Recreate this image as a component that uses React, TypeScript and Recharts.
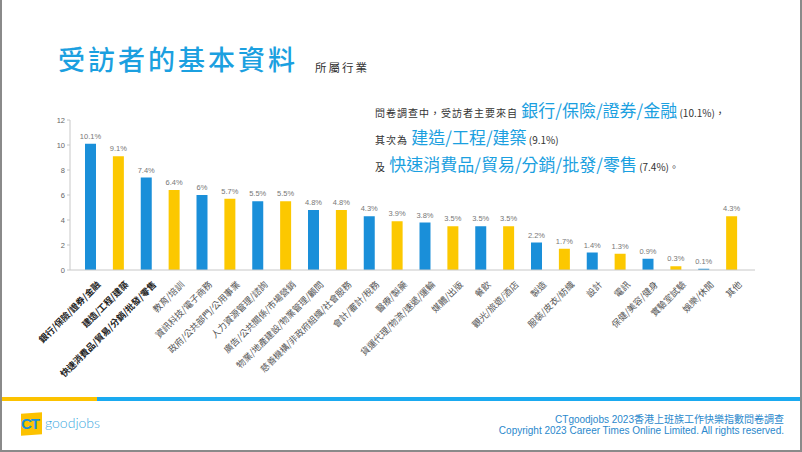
import React from "react";
import { BarChart, Bar, XAxis, YAxis, Cell, LabelList } from "recharts";

const categories = [
  "銀行/保險/證券/金融",
  "建造/工程/建築",
  "快速消費品/貿易/分銷/批發/零售",
  "教育/培訓",
  "資訊科技/電子商務",
  "政府/公共部門/公用事業",
  "人力資源管理/諮詢",
  "廣告/公共關係/市場營銷",
  "物業/地產建設/物業管理/顧問",
  "慈善機構/非政府組織/社會服務",
  "會計/審計/稅務",
  "醫療/製藥",
  "貨運代理/物流/速遞/運輸",
  "媒體/出版",
  "餐飲",
  "觀光/旅遊/酒店",
  "製造",
  "服裝/皮衣/紡織",
  "設計",
  "電訊",
  "保健/美容/健身",
  "實驗室試驗",
  "娛樂/休閒",
  "其他",
];

const shares = [10.1, 9.1, 7.4, 6.4, 6, 5.7, 5.5, 5.5, 4.8, 4.8, 4.3, 3.9, 3.8, 3.5, 3.5, 3.5, 2.2, 1.7, 1.4, 1.3, 0.9, 0.3, 0.1, 4.3];

const yTicks = [0, 2, 4, 6, 8, 10, 12];

const BLUE = "#1a8fd9";
const YELLOW = "#fcc800";
const CJK = '"Noto Sans CJK TC", "Noto Sans", sans-serif';

const data = categories.map((name, i) => ({ name, value: shares[i] }));

const XTick = (props: any) => {
  const { x, y, payload, index } = props;
  const bold = index < 3;
  return (
    <g transform={`translate(${x + 8},${y + 5})`}>
      <text
        x={0}
        y={0}
        dy="0.35em"
        textAnchor="end"
        transform="rotate(-45)"
        fontSize={9}
        fontWeight={bold ? 700 : 400}
        fill={bold ? "#222" : "#555"}
        fontFamily={CJK}
      >
        {payload.value}
      </text>
    </g>
  );
};

const small: React.CSSProperties = { fontSize: 10, color: "#333", letterSpacing: 1 };
const big: React.CSSProperties = { fontSize: 17, color: "#1ba0e0", fontWeight: 400 };

export default function App() {
  return (
    <div
      style={{
        position: "absolute",
        left: 0,
        top: 0,
        width: 802,
        height: 452,
        background: "#fff",
        overflow: "hidden",
        fontFamily: CJK,
        boxSizing: "border-box",
        borderLeft: "2px solid #8a8a8a",
        borderRight: "2px solid #8a8a8a",
        borderBottom: "2px solid #8a8a8a",
      }}
    >
      <div style={{ position: "absolute", left: 0, top: 0 }}>
        <BarChart
          width={802}
          height={452}
          data={data}
          margin={{ top: 120, right: 49, bottom: 82, left: 0 }}
          barSize={11}
        >
          <XAxis
            dataKey="name"
            interval={0}
            tickLine={false}
            axisLine={{ stroke: "#c8c8c8" }}
            padding={{ left: 7, right: 9 }}
            height={100}
            tick={<XTick />}
          />
          <YAxis
            width={68}
            domain={[0, 12]}
            ticks={yTicks}
            tickSize={3}
            tickMargin={2}
            axisLine={{ stroke: "#c8c8c8" }}
            tickLine={{ stroke: "#c8c8c8" }}
            tick={{ fontSize: 7.5, fill: "#666", fontFamily: "Liberation Sans, sans-serif" }}
          />
          <Bar dataKey="value" isAnimationActive={false}>
            {data.map((d, i) => (
              <Cell key={d.name} fill={i % 2 === 0 ? BLUE : YELLOW} />
            ))}
            <LabelList
              dataKey="value"
              position="top"
              offset={5}
              formatter={(v: any) => `${v}%`}
              style={{ fontSize: 7.5, fill: "#777", fontFamily: "Liberation Sans, sans-serif" }}
            />
          </Bar>
        </BarChart>
      </div>

      {/* Title */}
      <div
        style={{
          position: "absolute",
          left: 56,
          top: 41,
          fontSize: 27,
          letterSpacing: 3,
          color: "#1ba0e0",
          fontWeight: 500,
          lineHeight: "36px",
          whiteSpace: "nowrap",
        }}
      >
        受訪者的基本資料
      </div>
      <div
        style={{
          position: "absolute",
          left: 313,
          top: 59,
          fontSize: 11.5,
          letterSpacing: 2,
          color: "#333",
          lineHeight: "16px",
          whiteSpace: "nowrap",
        }}
      >
        所屬行業
      </div>

      {/* Annotation */}
      <div style={{ position: "absolute", left: 373, top: 98, lineHeight: "24px", whiteSpace: "nowrap" }}>
        <div>
          <span style={small}>問卷調查中，受訪者主要來自 </span>
          <span style={big}>銀行/保險/證券/金融</span>
          <span style={{ ...small, letterSpacing: 0 }}> (10.1%)，</span>
        </div>
        <div>
          <span style={small}>其次為 </span>
          <span style={big}>建造/工程/建築</span>
          <span style={{ ...small, letterSpacing: 0 }}> (9.1%)</span>
        </div>
        <div>
          <span style={small}>及 </span>
          <span style={big}>快速消費品/貿易/分銷/批發/零售</span>
          <span style={{ ...small, letterSpacing: 0 }}> (7.4%)。</span>
        </div>
      </div>

      {/* Footer stripe */}
      <div style={{ position: "absolute", left: 0, top: 397, width: 95, height: 4, background: "#fcc200" }} />
      <div style={{ position: "absolute", left: 95, top: 397, width: 707, height: 4, background: "#1aaaf0" }} />

      {/* Logo */}
      <div
        style={{
          position: "absolute",
          left: 19,
          top: 413,
          width: 21,
          height: 22,
          background: "#fcc200",
          transform: "skewY(-4deg)",
        }}
      />
      <div
        style={{
          position: "absolute",
          left: 19,
          top: 414,
          fontSize: 15,
          fontWeight: 700,
          color: "#1a90d8",
          fontFamily: "Liberation Sans, sans-serif",
          lineHeight: "20px",
          letterSpacing: -1,
        }}
      >
        CT
      </div>
      <div
        style={{
          position: "absolute",
          left: 43,
          top: 413,
          fontSize: 14,
          color: "#3aa8e0",
          fontFamily: "Lato, sans-serif",
          fontWeight: 300,
          lineHeight: "20px",
        }}
      >
        goodjobs
      </div>

      {/* Footer text */}
      <div
        style={{
          position: "absolute",
          right: 16,
          top: 414,
          textAlign: "right",
          fontSize: 10,
          color: "#2a88cc",
          fontFamily: '"Liberation Sans Narrow", "Liberation Sans", "Noto Sans CJK TC", sans-serif',
          lineHeight: "11px",
          whiteSpace: "nowrap",
        }}
      >
        <div>CTgoodjobs 2023香港上班族工作快樂指數問卷調查</div>
        <div>Copyright 2023 Career Times Online Limited. All rights reserved.</div>
      </div>
    </div>
  );
}
